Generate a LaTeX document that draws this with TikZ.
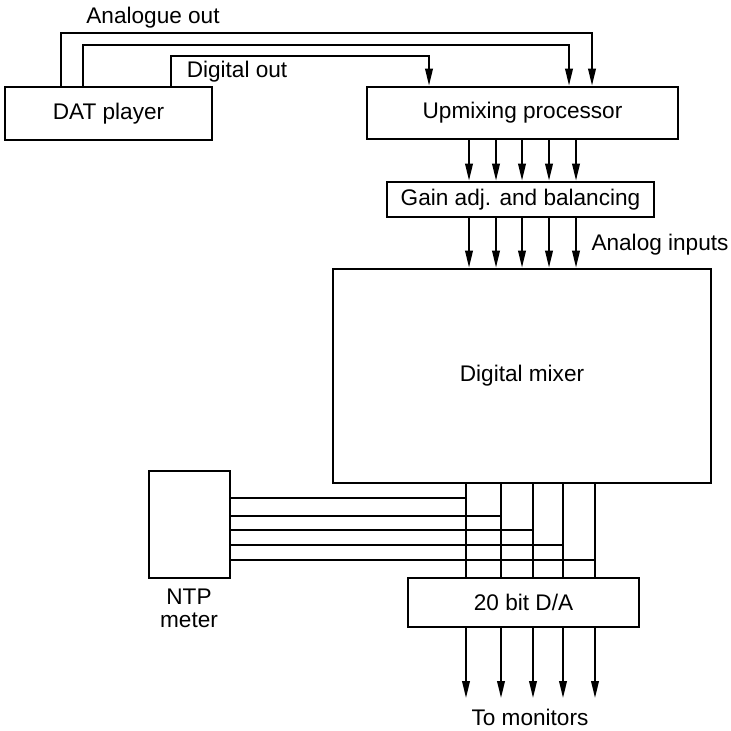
\documentclass[tikz,border=0pt]{standalone}
\usepackage{fontspec}
\setmainfont{Liberation Sans}
\usepackage{tikz}
\usetikzlibrary{arrows.meta,positioning,calc}

\begin{document}
\begin{tikzpicture}[
    x=0.5pt, y=-0.5pt,
    box/.style={draw, line width=1.4pt, inner sep=0pt, align=center, font=\fontsize{11.3}{13}\selectfont},
    lbl/.style={inner sep=0pt, align=center, font=\fontsize{11.3}{11.5}\selectfont},
    wire/.style={line width=0.9pt},
    arrow/.style={wire, -{Triangle[length=8.5pt,width=3.8pt]}}
]
    \useasboundingbox (0,0) rectangle (731,730);

    % boxes
    \node[box, minimum width=103.5pt, minimum height=26.5pt] (dat) at (108.5,113.5) {DAT player};
    \node[box, minimum width=155.5pt, minimum height=26pt] (upmix) at (522.5,113) {Upmixing processor};
    \node[box, minimum width=133.5pt, minimum height=17.5pt] (gain) at (520.5,199.5) {Gain adj. and balancing};
    \node[box, minimum width=189pt, minimum height=107pt] (mixer) at (522,376) {Digital mixer};
    \node[box, minimum width=40.5pt, minimum height=53.5pt] (ntp) at (189.5,524.5) {};
    \node[box, minimum width=115.5pt, minimum height=24.5pt] (da) at (523.5,602.5) {20 bit D/A};

    % labels
    \node[lbl] (aolbl) at (153,18) {Analogue out};
    \node[lbl] (dolbl) at (237,72) {Digital out};
    \node[lbl] (ailbl) at (660,245) {Analog inputs};
    \node[lbl] (ntplbl) at (189,608) {NTP\\meter};
    \node[lbl] (mon) at (530,717) {To monitors};

    % DAT outputs to upmixer
    \coordinate (ao1) at (61,33);  \coordinate (ao2) at (592,33);
    \coordinate (ai1) at (83,45);  \coordinate (ai2) at (569,45);
    \coordinate (do1) at (171,56); \coordinate (do2) at (429,56);
    \draw[arrow] (dat.north -| ao1) -- (ao1) -- (ao2) -- (upmix.north -| ao2);
    \draw[arrow] (dat.north -| ai1) -- (ai1) -- (ai2) -- (upmix.north -| ai2);
    \draw[arrow] (dat.north -| do1) -- (do1) -- (do2) -- (upmix.north -| do2);

    % five channels into the mixer
    \foreach \x [count=\i] in {469,496,522,549,576} {
        \coordinate (ch\i) at (\x,0);
        \draw[arrow] (upmix.south -| ch\i) -- (gain.north -| ch\i);
        \draw[arrow] (gain.south -| ch\i) -- (mixer.north -| ch\i);
    }

    % mixer outputs, meter taps and monitor feeds
    \foreach \x/\y [count=\i] in {466/498,501/516,533/530,563/545,595/560} {
        \coordinate (v\i) at (\x,\y);
        \coordinate (m\i) at (\x,698);
        \draw[wire] (mixer.south -| v\i) -- (da.north -| v\i);
        \draw[wire] (ntp.east |- v\i) -- (v\i);
        \draw[arrow] (da.south -| v\i) -- (m\i);
    }
\end{tikzpicture}
\end{document}
